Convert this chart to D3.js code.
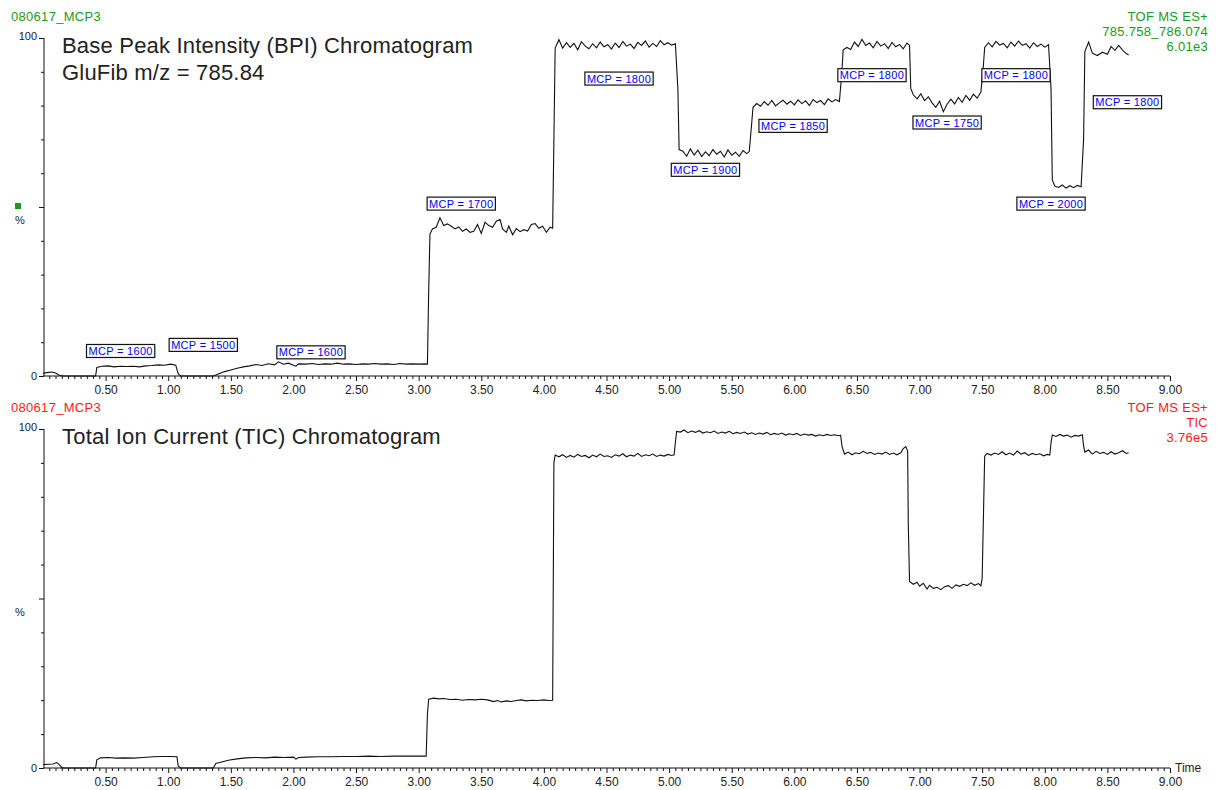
<!DOCTYPE html>
<html>
<head>
<meta charset="utf-8">
<script src="https://cdn.jsdelivr.net/npm/d3@7"></script>
<style>
  html, body { margin: 0; padding: 0; background: #fff; }
  svg { display: block; font-family: "Liberation Sans", Arial, sans-serif; }
</style>
</head>
<body>
<svg id="chart" width="1220" height="790"></svg>
<script>
// ---------------- DATA ----------------
const xMajorTicks = [0.5,1.0,1.5,2.0,2.5,3.0,3.5,4.0,4.5,5.0,5.5,6.0,6.5,7.0,7.5,8.0,8.5,9.0];
const yLabelTicks = [0, 100];

// BPI trace: [time (min), % intensity]
const bpiTrace = [
  [0.00,0.8],[0.03,1.0],[0.07,1.2],[0.10,0.9],[0.13,0.2],[0.16,0],[0.42,0],
  [0.43,2.5],[0.47,2.9],[0.52,3.0],[0.57,2.7],[0.62,2.9],[0.67,2.8],[0.72,2.9],[0.77,2.7],[0.82,3.0],[0.87,3.1],[0.92,3.3],[0.97,3.2],[1.02,3.5],[1.06,3.2],[1.08,0.6],[1.10,0],
  [1.36,0],[1.40,0.6],[1.45,1.3],[1.50,1.8],[1.55,2.3],[1.60,2.7],[1.65,3.0],[1.70,3.4],[1.75,3.1],[1.80,3.6],[1.85,3.3],[1.88,4.2],[1.92,3.5],[1.96,3.8],[2.00,3.2],[2.02,2.9],[2.04,3.6],
  [2.10,3.5],[2.15,3.7],[2.20,3.4],[2.25,3.6],[2.30,3.5],[2.35,3.8],[2.40,3.5],[2.45,3.6],[2.50,3.4],[2.55,3.6],[2.60,3.5],[2.65,3.7],[2.70,3.5],[2.75,3.6],[2.80,3.4],[2.85,3.7],[2.90,3.5],[2.95,3.6],[3.00,3.5],[3.05,3.6],[3.07,3.5],
  [3.08,25],[3.09,42],[3.11,43.5],[3.14,44],[3.17,46.8],[3.20,44.5],[3.23,45],[3.26,44.3],[3.29,43.5],[3.32,44.1],[3.35,42.8],[3.38,43.5],[3.41,42.5],[3.44,42.8],[3.47,44.8],[3.50,42.2],[3.53,45.5],[3.56,44.5],[3.59,44],[3.62,45.8],[3.65,46.3],[3.67,43.5],[3.70,42.5],[3.72,44.4],[3.75,41.8],[3.78,43.6],[3.81,42.7],[3.84,43.3],[3.87,42.9],[3.90,44.8],[3.93,45.1],[3.96,43.7],[3.99,44.3],[4.02,42.5],[4.05,44.0],[4.07,43.7],
  [4.08,70],[4.09,97],[4.12,99.5],[4.15,97],[4.18,98.6],[4.21,97.2],[4.24,98.4],[4.27,96.5],[4.30,98.9],[4.33,97.6],[4.36,96.8],[4.39,98.3],[4.42,97.1],[4.45,98.8],[4.48,97.4],[4.51,98.0],[4.54,96.7],[4.57,98.5],[4.60,97.2],[4.63,99.0],[4.66,97.6],[4.69,98.2],[4.72,96.9],[4.75,98.7],[4.78,97.8],[4.81,99.1],[4.84,97.3],[4.87,98.4],[4.90,97.5],[4.93,99.2],[4.96,98.0],[4.99,98.6],[5.02,97.9],[5.05,98.3],
  [5.07,85],[5.08,67],[5.11,66.5],[5.14,65],[5.17,67.2],[5.20,65.4],[5.23,66.8],[5.26,64.9],[5.29,66.3],[5.32,65.2],[5.35,67.0],[5.38,65.6],[5.41,66.5],[5.44,64.8],[5.47,66.9],[5.50,65.3],[5.53,66.2],[5.56,65.0],[5.59,66.7],[5.62,65.8],[5.64,66.4],
  [5.66,75],[5.67,79.5],[5.70,80.6],[5.73,79.8],[5.76,81.2],[5.79,80.1],[5.82,81.5],[5.85,79.9],[5.88,80.8],[5.91,81.6],[5.94,80.4],[5.97,81.3],[6.00,80.2],[6.03,81.7],[6.06,80.6],[6.09,81.4],[6.12,80.0],[6.15,81.8],[6.18,80.9],[6.21,81.5],[6.24,80.3],[6.27,82.0],[6.30,81.1],[6.33,81.8],[6.36,81.2],
  [6.38,90],[6.39,96.5],[6.42,97.2],[6.45,96.6],[6.48,98.8],[6.51,97.5],[6.54,99.6],[6.57,97.8],[6.60,98.5],[6.63,97.1],[6.66,99.0],[6.69,97.6],[6.72,98.3],[6.75,96.9],[6.78,98.7],[6.81,97.4],[6.84,98.1],[6.87,96.8],[6.90,98.5],[6.92,97.8],
  [6.93,85],[6.95,83.2],[6.98,82.0],[7.01,83.5],[7.04,81.5],[7.07,82.6],[7.10,80.8],[7.13,79.5],[7.16,81.3],[7.19,78.2],[7.22,80.4],[7.25,81.9],[7.28,80.5],[7.31,82.4],[7.34,81.0],[7.37,83.0],[7.40,81.6],[7.43,83.4],[7.46,82.2],[7.49,84.0],
  [7.51,92],[7.52,97.2],[7.55,98.6],[7.58,97.4],[7.61,99.0],[7.64,97.9],[7.67,98.4],[7.70,97.1],[7.73,98.8],[7.76,97.6],[7.79,99.1],[7.82,97.8],[7.85,98.3],[7.88,97.0],[7.91,98.6],[7.94,97.5],[7.97,98.2],[8.00,97.3],[8.03,98.0],
  [8.05,85],[8.06,58],[8.08,56.2],[8.11,55.8],[8.14,56.5],[8.17,55.6],[8.20,56.3],[8.23,55.7],[8.26,56.4],[8.29,56.0],
  [8.31,70],[8.32,96],[8.35,98.8],[8.38,95.5],[8.42,94.8],[8.46,95.8],[8.50,95.2],[8.53,97.5],[8.56,96.3],[8.59,97.8],[8.62,96.5],[8.65,95.4],[8.67,95.0]
];

// TIC trace: [time (min), % intensity]
const ticTrace = [
  [0.00,1.0],[0.04,1.1],[0.08,1.2],[0.11,1.6],[0.13,1.0],[0.15,0.1],[0.17,0],[0.42,0],
  [0.43,2.4],[0.46,3.0],[0.52,3.1],[0.58,2.9],[0.65,3.0],[0.72,2.9],[0.80,3.1],[0.88,3.3],[0.95,3.4],[1.02,3.4],[1.07,3.3],[1.08,0.5],[1.10,0],
  [1.36,0],[1.38,1.3],[1.42,1.7],[1.48,2.3],[1.55,2.7],[1.62,3.0],[1.70,3.1],[1.78,3.0],[1.85,3.2],[1.92,3.1],[2.00,3.2],[2.02,2.6],[2.04,3.1],[2.10,3.2],[2.20,3.3],[2.30,3.3],[2.40,3.4],[2.50,3.4],[2.60,3.5],[2.70,3.4],[2.80,3.5],[2.90,3.5],[3.00,3.5],[3.06,3.5],
  [3.07,16],[3.08,20.3],[3.12,20.6],[3.16,20.4],[3.20,20.5],[3.25,20.2],[3.30,20.3],[3.35,20.0],[3.40,20.2],[3.45,20.1],[3.50,20.3],[3.55,20.1],[3.60,19.6],[3.63,19.9],[3.66,19.5],[3.70,19.8],[3.74,19.6],[3.78,19.9],[3.82,20.1],[3.86,19.8],[3.90,20.0],[3.95,19.9],[4.00,20.1],[4.04,19.9],[4.07,20.0],
  [4.08,90],[4.09,92.3],[4.12,91.8],[4.15,92.4],[4.18,91.6],[4.21,92.2],[4.24,91.7],[4.27,92.5],[4.30,91.9],[4.33,92.2],[4.36,91.5],[4.39,92.3],[4.42,91.8],[4.45,92.6],[4.48,91.9],[4.51,92.1],[4.54,91.6],[4.57,92.4],[4.60,92.0],[4.63,92.7],[4.66,91.8],[4.69,92.3],[4.72,92.0],[4.75,92.8],[4.78,91.9],[4.81,92.4],[4.84,92.1],[4.87,92.6],[4.90,91.9],[4.93,92.3],[4.96,92.0],[4.99,92.5],[5.02,92.2],[5.04,92.4],
  [5.05,96],[5.06,99.3],[5.09,99.1],[5.12,99.7],[5.15,98.9],[5.18,99.4],[5.21,99.0],[5.24,99.5],[5.27,98.8],[5.30,99.2],[5.33,98.9],[5.36,99.4],[5.39,98.7],[5.42,99.1],[5.45,98.8],[5.48,99.3],[5.51,98.6],[5.54,99.0],[5.57,98.7],[5.60,99.1],[5.63,98.5],[5.66,98.9],[5.69,98.4],[5.72,98.8],[5.75,98.5],[5.78,99.0],[5.81,98.3],[5.84,98.7],[5.87,98.4],[5.90,98.8],[5.93,98.2],[5.96,98.6],[5.99,98.3],[6.02,98.7],[6.05,98.1],[6.08,98.5],[6.11,98.2],[6.14,98.4],[6.17,97.9],[6.20,98.3],[6.23,98.0],[6.26,98.4],[6.29,98.1],[6.32,98.3],[6.35,98.0],[6.37,98.2],
  [6.38,95],[6.40,92.6],[6.43,93.2],[6.46,92.4],[6.49,93.0],[6.52,92.7],[6.55,93.4],[6.58,92.8],[6.61,93.1],[6.64,92.5],[6.67,92.9],[6.70,92.6],[6.73,93.2],[6.76,92.5],[6.79,92.9],[6.82,92.4],[6.85,93.0],[6.87,94.2],[6.89,94.8],[6.905,93.5],
  [6.91,72],[6.92,55],[6.95,54.2],[6.98,54.8],[7.00,53.6],[7.03,54.5],[7.06,52.8],[7.08,53.9],[7.11,53.0],[7.14,53.3],[7.17,52.6],[7.20,53.5],[7.23,53.8],[7.26,53.0],[7.29,54.0],[7.32,53.6],[7.35,54.2],[7.38,53.8],[7.41,54.6],[7.44,53.9],[7.47,54.4],[7.49,53.8],
  [7.50,56],[7.51,74],[7.52,92.0],[7.54,92.8],[7.57,92.3],[7.60,92.9],[7.63,92.5],[7.66,93.3],[7.69,92.4],[7.72,92.9],[7.75,92.3],[7.78,93.5],[7.81,92.6],[7.84,93.0],[7.87,92.2],[7.90,92.8],[7.93,92.4],[7.96,92.7],[7.99,92.1],[8.02,92.5],[8.04,92.3],
  [8.05,96],[8.06,98.2],[8.09,97.8],[8.12,98.4],[8.15,97.9],[8.18,98.2],[8.21,97.6],[8.24,98.1],[8.27,97.9],[8.30,98.3],
  [8.31,95],[8.32,93.2],[8.35,93.8],[8.38,92.6],[8.41,93.4],[8.44,92.8],[8.47,93.1],[8.50,92.5],[8.53,93.3],[8.56,92.6],[8.59,93.0],[8.62,93.6],[8.65,92.8],[8.67,93.0]
];

// MCP annotations on BPI panel: label text, time of box centre, % of box centre
const mcpLabels = ["MCP = 1600","MCP = 1500","MCP = 1600","MCP = 1700","MCP = 1800","MCP = 1900","MCP = 1850","MCP = 1800","MCP = 1750","MCP = 1800","MCP = 2000","MCP = 1800"];
const mcpTimes  = [0.62, 1.28, 2.14, 3.34, 4.60, 5.29, 5.99, 6.62, 7.22, 7.77, 8.05, 8.66];
const mcpPct    = [7.4, 9.2, 7.0, 51.0, 88.0, 61.0, 74.0, 89.0, 75.0, 89.0, 51.0, 81.0];

// Panel texts
const topSample = "080617_MCP3";
const topInfo = ["TOF MS ES+", "785.758_786.074", "6.01e3"];
const topTitles = ["Base Peak Intensity (BPI) Chromatogram", "GluFib m/z = 785.84"];
const botSample = "080617_MCP3";
const botInfo = ["TOF MS ES+", "TIC", "3.76e5"];
const botTitles = ["Total Ion Current (TIC) Chromatogram"];

// ---------------- DRAW ----------------
const svg = d3.select("#chart");
const GREEN = "#1c9a1c", RED = "#ff1a1a";

const x = d3.scaleLinear().domain([0, 9]).range([43, 1170]);

function drawPanel(opt) {
  const y = d3.scaleLinear().domain([0, 100]).range([opt.y0, opt.y100]);
  const g = svg.append("g");

  // header texts
  g.append("text").attr("x", 11).attr("y", opt.headerY).attr("font-size", 13).attr("letter-spacing", "0.3px")
    .attr("fill", opt.color).text(opt.sample);
  opt.info.forEach((t, i) => {
    g.append("text").attr("x", 1208).attr("y", opt.headerY + i * 15).attr("text-anchor", "end")
      .attr("font-size", 13).attr("letter-spacing", "0.3px").attr("fill", opt.color).text(t);
  });
  opt.titles.forEach((t, i) => {
    g.append("text").attr("x", 62).attr("y", opt.y100 + 15 + i * 27).attr("font-size", 22)
      .attr("letter-spacing", "0.2px").attr("fill", "#222").text(t);
  });

  // y axis: labelled 0/100
  const yAx = g.append("g").attr("transform", `translate(${x(0)+1},0)`)
    .call(d3.axisLeft(y).tickValues(yLabelTicks).tickSize(5).tickPadding(2).tickFormat(d3.format("d")));
  yAx.selectAll("text").attr("font-size", 11).attr("fill", "#222").attr("font-family", "Liberation Sans, Arial, sans-serif");
  yAx.selectAll("line").attr("stroke", "#111");
  yAx.select(".domain").attr("stroke", "#111").attr("d", `M0,${opt.y0}V${opt.y100}`);
  yAx.selectAll(".tick").filter(d => d === 100).select("text").attr("dy", "0.1em");
  // minor y ticks
  const yMinor = g.append("g").attr("transform", `translate(${x(0)+1},0)`)
    .call(d3.axisLeft(y).tickValues(d3.range(10, 100, 10)).tickSize(3).tickFormat(""));
  yMinor.select(".domain").remove();
  yMinor.selectAll("line").attr("stroke", "#111").attr("x2", d => d === 50 ? -5 : -3);

  // % label
  g.append("text").attr("x", 20).attr("y", y(50) + 17).attr("text-anchor", "middle").attr("font-size", 11).attr("fill", "#222").text("%");
  if (opt.marker) {
    g.append("rect").attr("x", 15).attr("y", y(50) - 4).attr("width", 6).attr("height", 6).attr("fill", GREEN);
  }

  // x axis
  const xAx = g.append("g").attr("transform", `translate(0,${opt.y0})`)
    .call(d3.axisBottom(x).tickValues(xMajorTicks).tickSize(5).tickPadding(4).tickFormat(d3.format(".2f")));
  xAx.selectAll("text").attr("font-size", 12).attr("fill", "#222").attr("font-family", "Liberation Sans, Arial, sans-serif");
  xAx.selectAll("line").attr("stroke", "#111");
  xAx.select(".domain").attr("stroke", "#111").attr("d", `M${x(0)},0H${x(9)}`);
  const xMinor = g.append("g").attr("transform", `translate(0,${opt.y0})`)
    .call(d3.axisBottom(x).tickValues(d3.range(1, 180).map(i => i * 0.05).filter(v => Math.abs(v*2 - Math.round(v*2)) > 1e-6)).tickSize(3).tickFormat(""));
  xMinor.select(".domain").remove();
  xMinor.selectAll("line").attr("stroke", "#111");
  if (opt.timeLabel) {
    g.append("text").attr("x", 1175).attr("y", opt.y0 + 4).attr("font-size", 12).attr("fill", "#222").text("Time");
  }

  // trace
  const line = d3.line().x(d => x(d[0])).y(d => y(d[1]));
  g.append("path").datum(opt.trace).attr("d", line).attr("fill", "none").attr("stroke", "#111").attr("stroke-width", 1.1);

  return y;
}

const yTop = drawPanel({ y0: 376, y100: 38, headerY: 21, color: GREEN, sample: topSample, info: topInfo,
  titles: topTitles, trace: bpiTrace, marker: true, timeLabel: false });
drawPanel({ y0: 768, y100: 429, headerY: 412, color: RED, sample: botSample, info: botInfo,
  titles: botTitles, trace: ticTrace, marker: false, timeLabel: true });

// MCP annotation boxes
const ann = svg.append("g");
mcpLabels.forEach((lab, i) => {
  const cx = x(mcpTimes[i]), cy = yTop(mcpPct[i]);
  const grp = ann.append("g");
  const txt = grp.append("text").attr("x", cx).attr("y", cy + 4).attr("text-anchor", "middle")
    .attr("font-size", 11).attr("fill", "#0000ff").attr("letter-spacing", "0.3px").text(lab);
  const w = txt.node().getComputedTextLength() + 4;
  grp.insert("rect", "text").attr("x", cx - w / 2).attr("y", cy - 6.5).attr("width", w).attr("height", 13)
    .attr("fill", "#fff").attr("stroke", "#111").attr("stroke-width", 1.2);
});
</script>
</body>
</html>
